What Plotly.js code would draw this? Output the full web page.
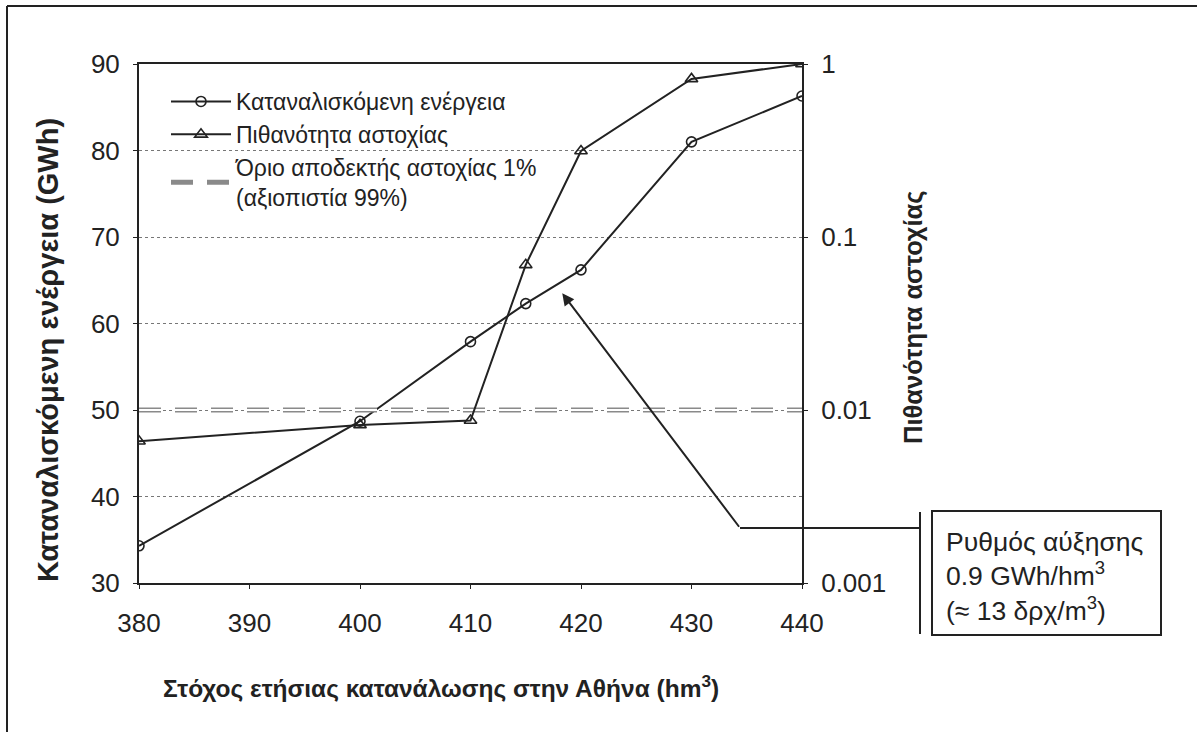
<!DOCTYPE html>
<html>
<head>
<meta charset="utf-8">
<script src="https://cdn.plot.ly/plotly-3.0.1.min.js"></script>
<style>html,body{margin:0;padding:0;background:#fff;}#chart{width:1197px;height:732px;}</style>
</head>
<body>
<div id="chart"></div>
<script>
// ---- data ----
const targets = [380, 400, 410, 415, 420, 430, 440];          // hm3
const energy = [34.3, 48.7, 57.9, 62.3, 66.2, 81.0, 86.3];   // GWh
const failProb = [0.0066, 0.0082, 0.0087, 0.069, 0.314, 0.82, 1.0];
const limitX = [380, 440];
const limitY = [0.01, 0.01];
const xTicks = [380, 390, 400, 410, 420, 430, 440];
const yTicks = [30, 40, 50, 60, 70, 80, 90];
const y2Ticks = [0.001, 0.01, 0.1, 1];
const y2TickText = ['0.001', '0.01', '0.1', '1'];
const names = ['Καταναλισκόμενη ενέργεια', 'Πιθανότητα αστοχίας', 'Όριο αποδεκτής αστοχίας 1%<br>(αξιοπιστία 99%)'];
const xTitle = 'Στόχος ετήσιας κατανάλωσης στην Αθήνα (hm<sup>3</sup>)';
const yTitle = 'Καταναλισκόμενη ενέργεια (GWh)';
const y2Title = 'Πιθανότητα αστοχίας';
const boxText = 'Ρυθμός αύξησης<br>0.9 GWh/hm<sup>3</sup><br>(≈ 13 δρχ/m<sup>3</sup>)';
const arrowTarget = [418.3, 63.5];

// ---- layout geometry ----
const W = 1197, H = 732;
const L = 139, R = 802, T = 64, B = 583;
const px = v => (v - L) / (R - L);
const py = v => (B - v) / (B - T);
const ink = '#222';
const sans = '"Liberation Sans", Arial, sans-serif';

const traces = [
  {x: limitX, y: limitY, yaxis: 'y2', mode: 'lines', name: names[2], legendgroup: 'c', legendrank: 3,
   line: {color: '#8a8a8a', width: 5, dash: '22px,14px'}},
  {x: limitX, y: limitY, yaxis: 'y2', mode: 'lines', showlegend: false, hoverinfo: 'skip',
   line: {color: '#ffffff', width: 2, dash: '22px,14px'}},
  {x: targets, y: energy, mode: 'lines+markers', name: names[0], legendgroup: 'a', legendrank: 1,
   line: {color: ink, width: 2}, marker: {symbol: 'circle-open', size: 10, color: ink, line: {width: 1.6}}},
  {x: targets, y: failProb, yaxis: 'y2', mode: 'lines+markers', name: names[1], legendgroup: 'b', legendrank: 2,
   line: {color: ink, width: 2}, marker: {symbol: 'triangle-up-open', size: 11, color: ink, line: {width: 1.6}}}
];

const layout = {
  width: W, height: H,
  margin: {l: L, r: W - R, t: T, b: H - B, pad: 0},
  paper_bgcolor: '#fff', plot_bgcolor: '#fff',
  font: {family: sans, color: ink, size: 26},
  showlegend: true,
  legend: {x: px(166), y: py(80), xanchor: 'left', yanchor: 'top', bgcolor: 'rgba(0,0,0,0)',
           itemwidth: 60, font: {family: sans, size: 23, color: ink}, tracegroupgap: 9, traceorder: 'normal'},
  xaxis: {range: [380, 440], tickvals: xTicks, showgrid: false, zeroline: false,
          showline: true, linecolor: ink, linewidth: 2, mirror: true,
          ticks: 'outside', ticklen: 4, tickcolor: ink, ticklabelstandoff: 12,
          tickfont: {family: sans, size: 26, color: ink}},
  yaxis: {range: [30, 90], tickvals: yTicks, showgrid: true, gridcolor: '#777', griddash: 'dot', gridwidth: 1,
          zeroline: false, showline: true, linecolor: ink, linewidth: 2,
          ticks: 'outside', ticklen: 4, tickcolor: ink, ticklabelstandoff: 8,
          tickfont: {family: sans, size: 26, color: ink}},
  yaxis2: {type: 'log', range: [-3, 0], overlaying: 'y', side: 'right', tickvals: y2Ticks, ticktext: y2TickText,
           showgrid: false, zeroline: false, showline: true, linecolor: ink, linewidth: 2,
           ticks: 'outside', ticklen: 4, tickcolor: ink, ticklabelstandoff: 8,
           tickfont: {family: sans, size: 26, color: ink}},
  annotations: [
    {xref: 'paper', yref: 'paper', x: px(441), y: py(686), text: '<b>' + xTitle + '</b>', showarrow: false,
     xanchor: 'center', yanchor: 'middle', font: {family: sans, size: 24.5, color: ink}},
    {xref: 'paper', yref: 'paper', x: px(48), y: py(350), text: '<b>' + yTitle + '</b>', showarrow: false,
     textangle: -90, xanchor: 'center', yanchor: 'middle', font: {family: sans, size: 29, color: ink}},
    {xref: 'paper', yref: 'paper', x: px(913), y: py(317), text: '<b>' + y2Title + '</b>', showarrow: false,
     textangle: -90, xanchor: 'center', yanchor: 'middle', font: {family: sans, size: 25.5, color: ink}},
    {xref: 'x', yref: 'y', x: arrowTarget[0], y: arrowTarget[1], text: '', showarrow: true,
     ax: 178, ay: 235, axref: 'pixel', ayref: 'pixel', arrowhead: 2, arrowsize: 1.2, arrowwidth: 2, arrowcolor: ink},
    {xref: 'paper', yref: 'paper', x: px(944), y: py(576), text: boxText, showarrow: false, align: 'left',
     xanchor: 'left', yanchor: 'middle', font: {family: sans, size: 26.5, color: ink}}
  ],
  shapes: [
    {type: 'line', xref: 'paper', yref: 'paper', x0: px(7), x1: px(7), y0: py(6), y1: py(H + 5), line: {color: ink, width: 2}},
    {type: 'line', xref: 'paper', yref: 'paper', x0: px(7), x1: px(W + 5), y0: py(6), y1: py(6), line: {color: ink, width: 2}},
    {type: 'line', xref: 'paper', yref: 'paper', x0: px(740), x1: px(920), y0: py(528), y1: py(528), line: {color: ink, width: 2}},
    {type: 'line', xref: 'paper', yref: 'paper', x0: px(920), x1: px(920), y0: py(512), y1: py(634), line: {color: ink, width: 2}},
    {type: 'rect', xref: 'paper', yref: 'paper', x0: px(932), x1: px(1161), y0: py(511), y1: py(635), line: {color: ink, width: 2}}
  ]
};

Plotly.newPlot('chart', traces, layout, {displayModeBar: false, staticPlot: true});
</script>
</body>
</html>
